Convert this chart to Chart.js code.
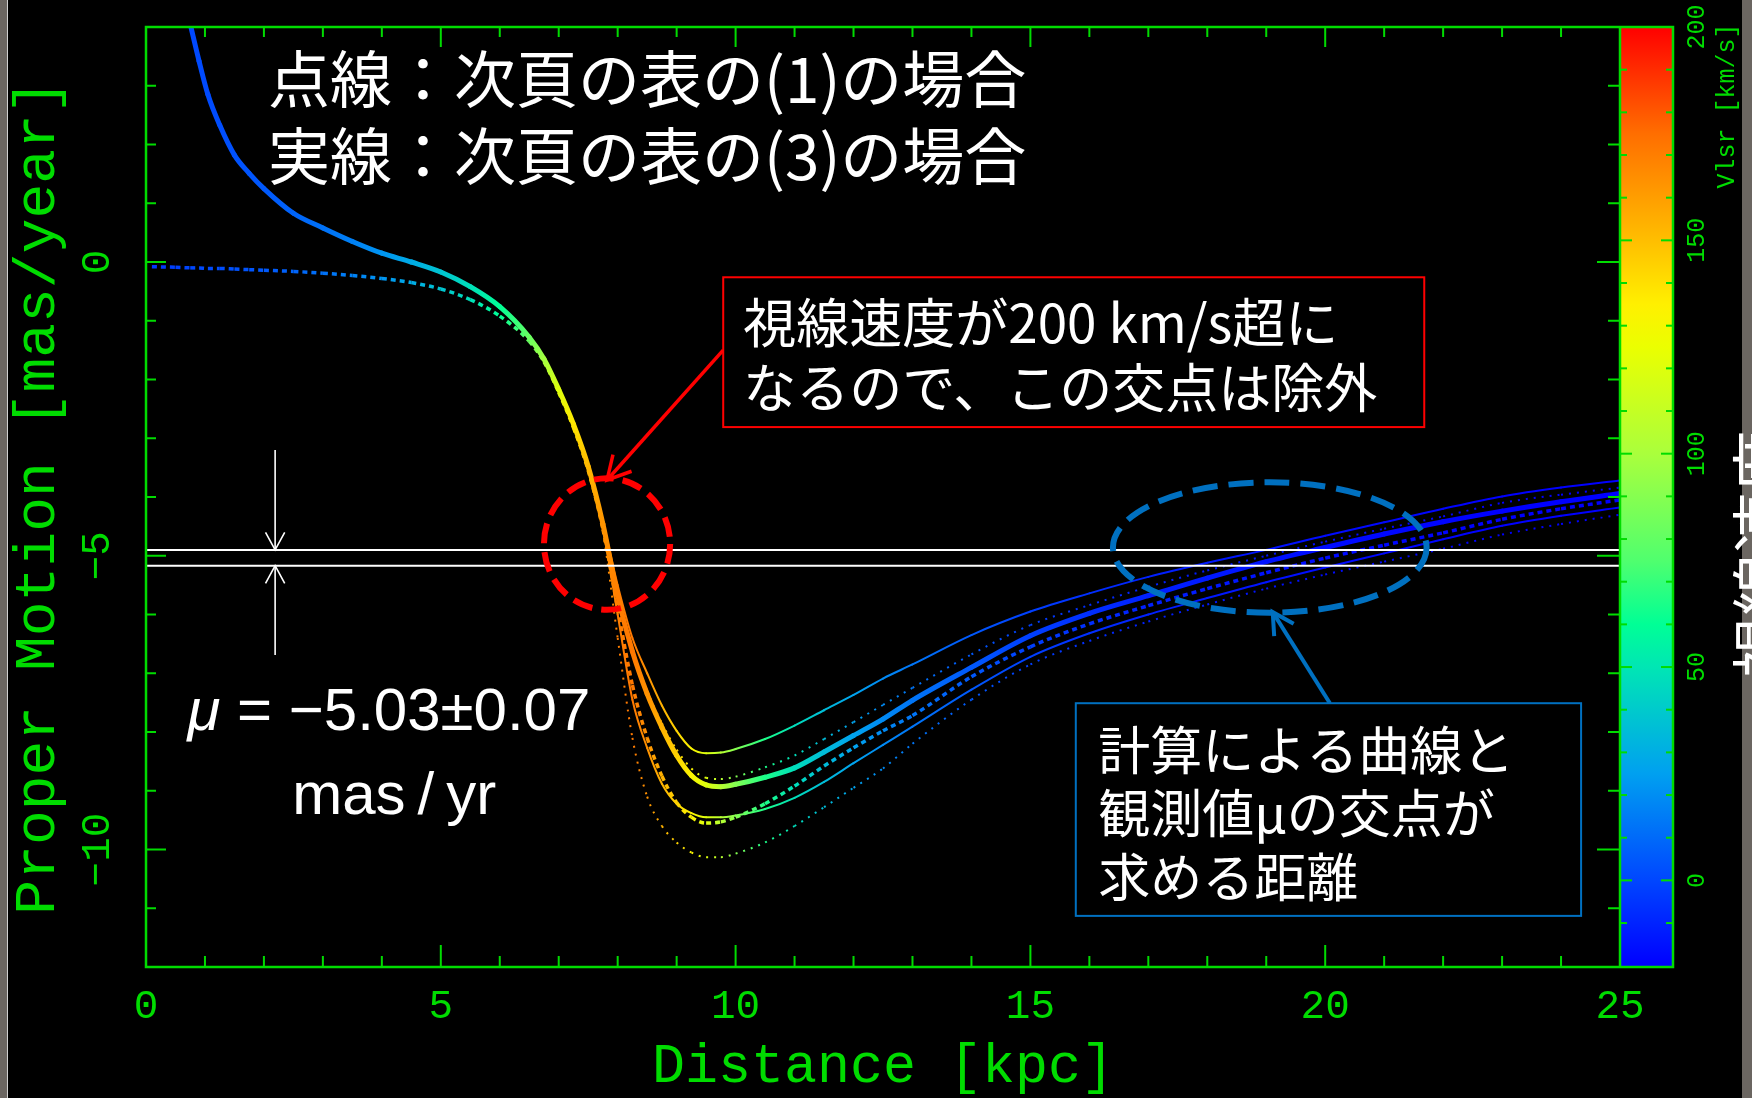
<!DOCTYPE html>
<html lang="ja">
<head>
<meta charset="utf-8">
<title>Proper Motion vs Distance</title>
<script src="https://cdn.jsdelivr.net/npm/chart.js@4.4.1/dist/chart.umd.min.js"></script>
<style>
  html, body { margin: 0; padding: 0; background: #000; overflow: hidden; }
  #wrap { position: relative; width: 1752px; height: 1098px; }
</style>
</head>
<body>
<div id="wrap"><canvas id="pm"></canvas></div>
<script>
// 距離 [kpc] (全曲線で共通)
const distanceKpc = [0.1, 0.5, 0.75, 0.9, 1.05, 1.25, 1.5, 1.75, 2.0, 2.5,
  3.0, 3.5, 4.0, 4.5, 5.0, 5.5, 6.0, 6.5, 6.75, 7.0,
  7.25, 7.5, 7.75, 8.0, 8.25, 8.5, 8.75, 9.0, 9.25, 9.5,
  9.75, 10.0, 10.5, 11.0, 11.5, 12.0, 12.5, 13.0, 14.0, 15.0,
  16.0, 17.0, 18.0, 19.0, 20.0, 21.0, 22.0, 23.0, 24.0, 25.0];

// 視線速度 Vlsr [km/s] (線の色)
const vlsrKms = [-4, -2, 0, 1, 1, 2, 3, 4, 5, 8,
  12, 16, 22, 29, 38, 48, 60, 82, 98, 120,
  138, 152, 163, 170, 172, 164, 154, 144, 133, 120,
  105, 90, 65, 47, 35, 26, 19, 13, 5, -2,
  -7, -11, -13, -15, -17, -18, -19, -20, -20, -20];

// 実線 : (3)の場合
const solidMid = [null, null, 4.05, 3.42, 2.85, 2.33, 1.82, 1.51, 1.25, 0.83,
  0.58, 0.35, 0.15, 0.0, -0.17, -0.42, -0.76, -1.28, -1.65, -2.17,
  -2.76, -3.48, -4.46, -5.68, -6.63, -7.35, -7.92, -8.40, -8.74, -8.90,
  -8.93, -8.89, -8.77, -8.61, -8.34, -8.06, -7.78, -7.46, -6.90, -6.36,
  -5.98, -5.68, -5.38, -5.10, -4.86, -4.63, -4.42, -4.24, -4.08, -3.94];
const solidHigh = [null, null, null, null, null, null, null, null, null, null,
  null, null, null, null, null, null, null, null, null, null,
  null, -3.48, -4.42, -5.5, -6.4, -7.0, -7.55, -7.98, -8.28, -8.36,
  -8.35, -8.29, -8.12, -7.89, -7.63, -7.37, -7.09, -6.85, -6.35, -5.95,
  -5.64, -5.36, -5.12, -4.90, -4.66, -4.43, -4.20, -3.99, -3.84, -3.72];
const solidLow = [null, null, null, null, null, null, null, null, null, null,
  null, null, null, null, null, null, null, null, null, null,
  null, -3.48, -4.55, -6.0, -7.45, -8.27, -8.88, -9.22, -9.38, -9.45,
  -9.45, -9.42, -9.31, -9.12, -8.85, -8.53, -8.22, -7.91, -7.28, -6.72,
  -6.32, -6.00, -5.72, -5.45, -5.20, -4.96, -4.72, -4.49, -4.32, -4.18];

// 点線 : (1)の場合
const dotMid = [-0.08, -0.09, -0.10, -0.10, -0.11, -0.11, -0.12, -0.13, -0.14, -0.16,
  -0.19, -0.23, -0.28, -0.35, -0.46, -0.64, -0.92, -1.35, -1.7, -2.22,
  -2.82, -3.55, -4.55, -5.9, -7.2, -8.1, -8.75, -9.2, -9.45, -9.55,
  -9.53, -9.45, -9.22, -8.92, -8.58, -8.27, -7.98, -7.72, -7.06, -6.55,
  -6.16, -5.85, -5.56, -5.29, -5.04, -4.82, -4.61, -4.38, -4.20, -4.05];
const dotHigh = [null, null, null, null, null, null, null, null, null, null,
  null, null, null, null, null, null, null, null, null, null,
  null, -3.55, -4.45, -5.7, -6.6, -7.3, -7.85, -8.3, -8.62, -8.78,
  -8.8, -8.76, -8.6, -8.4, -8.12, -7.83, -7.54, -7.25, -6.68, -6.18,
  -5.84, -5.53, -5.25, -5.0, -4.76, -4.54, -4.33, -4.10, -3.96, -3.84];
const dotLow = [null, null, null, null, null, null, null, null, null, null,
  null, null, null, null, null, null, null, null, null, null,
  null, -3.55, -4.6, -6.4, -8.1, -9.1, -9.6, -9.88, -10.05, -10.13,
  -10.13, -10.07, -9.88, -9.6, -9.28, -8.95, -8.62, -8.2, -7.45, -6.85,
  -6.45, -6.12, -5.83, -5.56, -5.32, -5.10, -4.88, -4.64, -4.46, -4.30];

// 観測値 μ = -5.03 ± 0.07 mas/yr (図の白枠)
const muBandTop = -4.90;
const muBandBottom = -5.17;

// カラーバー
const cmapKms = [-20, 0, 25, 50, 60, 75, 100, 125, 135, 150, 175, 200];
const cmapRgb = [[0,0,255],[0,70,255],[0,160,240],[0,230,180],[0,255,150],[80,255,110],
  [170,255,60],[235,255,0],[255,240,0],[255,190,0],[255,110,0],[255,0,0]];

const GREEN = '#00dc00';
const MONO = '"Liberation Mono", "DejaVu Sans Mono", monospace';
const JP = '"Noto Sans CJK JP", sans-serif';
const SANS = '"Liberation Sans", Arial, sans-serif';
const CBAR_W = 53;

function vlsrColor(v) {
  if (v <= cmapKms[0]) return 'rgb(' + cmapRgb[0].join(',') + ')';
  for (let i = 1; i < cmapKms.length; i++) {
    if (v <= cmapKms[i]) {
      const t = (v - cmapKms[i - 1]) / (cmapKms[i] - cmapKms[i - 1]);
      const a = cmapRgb[i - 1], b = cmapRgb[i];
      return 'rgb(' + a.map((c, k) => Math.round(c + (b[k] - c) * t)).join(',') + ')';
    }
  }
  return 'rgb(' + cmapRgb[cmapRgb.length - 1].join(',') + ')';
}

// 線分ごとに Vlsr の色でグラデーション
function segColor(c) {
  const a = vlsrColor(vlsrKms[c.p0DataIndex]);
  const b = vlsrColor(vlsrKms[c.p1DataIndex]);
  const dx = c.p1.x - c.p0.x, dy = c.p1.y - c.p0.y;
  if (dx * dx + dy * dy < 1) return a;
  const g = c.chart.ctx.createLinearGradient(c.p0.x, c.p0.y, c.p1.x, c.p1.y);
  g.addColorStop(0, a);
  g.addColorStop(1, b);
  return g;
}

function curve(label, values, width, dash, order) {
  return {
    label: label,
    data: values.map((v, i) => ({ x: distanceKpc[i], y: v })),
    xAxisID: 'x', yAxisID: 'y',
    borderWidth: width,
    borderDash: dash,
    borderCapStyle: dash.length ? 'butt' : 'round',
    borderColor: '#0000ff',
    pointRadius: 0,
    cubicInterpolationMode: 'monotone',
    segment: { borderColor: segColor },
    order: order
  };
}

// 図中の注記 (データ座標)
function arrow(ctx, x0, y0, x1, y1, len, ang, color, w) {
  const a = Math.atan2(y1 - y0, x1 - x0);
  ctx.strokeStyle = color; ctx.lineWidth = w;
  ctx.beginPath(); ctx.moveTo(x0, y0); ctx.lineTo(x1, y1); ctx.stroke();
  ctx.beginPath();
  ctx.moveTo(x1 - len * Math.cos(a - ang), y1 - len * Math.sin(a - ang));
  ctx.lineTo(x1, y1);
  ctx.lineTo(x1 - len * Math.cos(a + ang), y1 - len * Math.sin(a + ang));
  ctx.stroke();
}

function noPad(s) {
  s.paddingTop = 0; s.paddingBottom = 0; s.paddingLeft = 0; s.paddingRight = 0;
}

const decorations = {
  id: 'decorations',
  beforeDraw(chart) {
    const { ctx, width, height, chartArea: a } = chart;
    const cb = chart.scales.cb;
    ctx.save();
    ctx.fillStyle = '#000';
    ctx.fillRect(0, 0, width, height);
    ctx.fillStyle = '#6b6661';
    ctx.fillRect(0, 0, 7, height);
    ctx.fillRect(1742, 0, width - 1742, height);
    ctx.fillStyle = '#d0d0d0';
    ctx.fillRect(7, 0, 1, height);
    // カラーバー
    const yb = cb.getPixelForValue(cb.min), yt = cb.getPixelForValue(cb.max);
    const g = ctx.createLinearGradient(0, yb, 0, yt);
    g.addColorStop(0, vlsrColor(cb.min));
    cmapKms.forEach(v => {
      const t = (v - cb.min) / (cb.max - cb.min);
      if (t >= 0 && t <= 1) g.addColorStop(t, vlsrColor(v));
    });
    ctx.fillStyle = g;
    ctx.fillRect(a.right, yt, CBAR_W, yb - yt);
    ctx.restore();
  },
  afterDatasetsDraw(chart) {
    const { ctx, chartArea: a, scales } = chart;
    ctx.save();
    ctx.strokeStyle = GREEN;
    const seg = (x0, y0, x1, y1) => { ctx.beginPath(); ctx.moveTo(x0, y0); ctx.lineTo(x1, y1); ctx.stroke(); };
    ctx.lineWidth = 2;
    scales.x.ticks.forEach(t => {
      const p = scales.x.getPixelForValue(t.value);
      const major = t.value % 5 === 0;
      seg(p, a.bottom, p, a.bottom - (major ? 22 : 11));
      seg(p, a.top, p, a.top + (major ? 20 : 10));
    });
    scales.y.ticks.forEach(t => {
      const p = scales.y.getPixelForValue(t.value);
      const major = t.value % 5 === 0;
      seg(a.left, p, a.left + (major ? 20 : 10), p);
      seg(a.right, p, a.right - (major ? 23 : 12), p);
    });
    scales.cb.ticks.forEach(t => {
      if (Math.abs(t.value % 10) > 1e-6) return;
      const p = scales.cb.getPixelForValue(t.value);
      const major = t.value % 50 === 0;
      seg(a.right, p, a.right + (major ? 12 : 7), p);
      seg(a.right + CBAR_W, p, a.right + CBAR_W - (major ? 12 : 7), p);
    });
    ctx.lineWidth = 2.5;
    ctx.strokeRect(a.left, a.top, a.right + CBAR_W - a.left, a.bottom - a.top);
    seg(a.right, a.top, a.right, a.bottom);
    ctx.restore();
  },
  afterDraw(chart) {
    const { ctx } = chart;
    const X = v => chart.scales.x.getPixelForValue(v);
    const Y = v => chart.scales.y.getPixelForValue(v);
    ctx.save();

    // 白い矢印 (μ の幅)
    arrow(ctx, X(2.19), Y(-3.20), X(2.19), Y(muBandTop), 20, 0.5, '#fff', 1.6);
    arrow(ctx, X(2.19), Y(-6.69), X(2.19), Y(muBandBottom), 20, 0.5, '#fff', 1.6);

    // 赤い破線の円
    ctx.strokeStyle = '#ff0000';
    ctx.lineWidth = 6;
    ctx.setLineDash([20, 9]);
    ctx.beginPath();
    ctx.ellipse(X(7.82), Y(-4.80), X(7.82 + 1.07) - X(7.82), Y(-4.80 - 1.12) - Y(-4.80), 0, 0, Math.PI * 2);
    ctx.stroke();
    // 青い破線の楕円
    ctx.strokeStyle = '#0070c0';
    ctx.setLineDash([25, 11]);
    ctx.beginPath();
    ctx.ellipse(X(19.06), Y(-4.86), X(19.06 + 2.66) - X(19.06), Y(-4.86 - 1.11) - Y(-4.86), 0, 0, Math.PI * 2);
    ctx.stroke();
    ctx.setLineDash([]);

    arrow(ctx, X(9.79), Y(-1.50), X(7.82), Y(-3.71), 26, 0.5, '#ff0000', 3.5);
    arrow(ctx, X(20.08), Y(-7.51), X(19.11), Y(-5.96), 24, 0.5, '#0070c0', 4);

    // 注記の枠
    ctx.lineWidth = 2;
    ctx.fillStyle = '#000';
    ctx.fillRect(X(9.79), Y(-0.26), X(21.68) - X(9.79), Y(-2.81) - Y(-0.26));
    ctx.strokeStyle = '#ff0000';
    ctx.strokeRect(X(9.79), Y(-0.26), X(21.68) - X(9.79), Y(-2.81) - Y(-0.26));
    ctx.fillRect(X(15.77), Y(-7.51), X(24.34) - X(15.77), Y(-11.13) - Y(-7.51));
    ctx.strokeStyle = '#0070c0';
    ctx.strokeRect(X(15.77), Y(-7.51), X(24.34) - X(15.77), Y(-11.13) - Y(-7.51));

    // 文字
    ctx.fillStyle = '#fff';
    ctx.textBaseline = 'middle';
    ctx.textAlign = 'left';
    ctx.font = '62px ' + JP;
    ctx.fillText('点線：次頁の表の(1)の場合', X(2.07), Y(3.10));
    ctx.fillText('実線：次頁の表の(3)の場合', X(2.07), Y(1.80));
    ctx.font = '53px ' + JP;
    ctx.fillText('視線速度が200 km/s超に', X(10.13), Y(-1.04));
    ctx.fillText('なるので、この交点は除外', X(10.13), Y(-2.14));
    ctx.font = '52px ' + JP;
    ctx.fillText('計算による曲線と', X(16.15), Y(-8.31));
    ctx.fillText('観測値μの交点が', X(16.15), Y(-9.38));
    ctx.fillText('求める距離', X(16.15), Y(-10.47));

    // μ = −5.03±0.07 mas/yr
    const muA = 'μ', muB = ' = −5.03±0.07';
    ctx.font = 'italic 60px ' + SANS;
    const wA = ctx.measureText(muA).width;
    ctx.font = '60px ' + SANS;
    const wB = ctx.measureText(muB).width;
    const x0 = X(4.12) - (wA + wB) / 2;
    ctx.font = 'italic 60px ' + SANS;
    ctx.fillText(muA, x0, Y(-7.69));
    ctx.font = '60px ' + SANS;
    ctx.fillText(muB, x0 + wA, Y(-7.69));
    ctx.textAlign = 'center';
    ctx.fillText('mas\u2009/\u2009yr', X(4.21), Y(-9.11));

    // カラーバーの軸名と右端の文字
    ctx.fillStyle = GREEN;
    ctx.font = '25px ' + MONO;
    ctx.save();
    ctx.translate(1727, 106);
    ctx.rotate(-Math.PI / 2);
    ctx.fillText('Vlsr [km/s]', 0, 0);
    ctx.restore();
    ctx.fillStyle = '#fff';
    ctx.font = '62px ' + JP;
    ctx.translate(1762, 554);
    ctx.rotate(-Math.PI / 2);
    ctx.fillText('視線速度', 0, 0);
    ctx.restore();
  }
};

const band = {
  label: 'mu',
  data: [
    { x: 0, y: muBandTop }, { x: 25, y: muBandTop },
    { x: 25, y: muBandBottom }, { x: 0, y: muBandBottom }, { x: 0, y: muBandTop }
  ],
  xAxisID: 'x', yAxisID: 'y',
  borderColor: '#ffffff', borderWidth: 2, pointRadius: 0, fill: false, order: 0
};

new Chart(document.getElementById('pm'), {
  type: 'line',
  data: {
    datasets: [
      band,
      curve('(3)', solidMid, 5, [], 1),
      curve('(3) upper', solidHigh, 2, [], 2),
      curve('(3) lower', solidLow, 2, [], 2),
      curve('(1)', dotMid, 3.5, [5, 4], 3),
      curve('(1) upper', dotHigh, 2, [2, 6], 4),
      curve('(1) lower', dotLow, 2, [2, 6], 4)
    ]
  },
  options: {
    responsive: true,
    maintainAspectRatio: false,
    animation: false,
    devicePixelRatio: 1,
    layout: { padding: { top: 27, left: 0, right: 0, bottom: 0 } },
    plugins: { legend: { display: false }, tooltip: { enabled: false } },
    scales: {
      x: {
        type: 'linear', position: 'bottom', min: 0, max: 25,
        grid: { display: false, drawTicks: false }, border: { display: false },
        ticks: {
          stepSize: 1, autoSkip: false, maxRotation: 0, padding: 16,
          color: GREEN, font: { family: MONO, size: 41 },
          callback: v => (v % 5 === 0 ? String(v) : '')
        },
        title: { display: true, text: 'Distance [kpc]', color: GREEN, padding: 0,
          font: { family: MONO, size: 55, lineHeight: 1.1 } },
        afterFit: s => { s.height = 131; noPad(s); }
      },
      y: {
        type: 'linear', position: 'left', min: -12, max: 4,
        grid: { display: false, drawTicks: false }, border: { display: false },
        ticks: {
          stepSize: 1, autoSkip: false, minRotation: 90, maxRotation: 90,
          crossAlign: 'center', padding: 11,
          color: GREEN, font: { family: MONO, size: 41 },
          callback: v => (v % 5 === 0 ? String(v).replace('-', '\u2212') : '')
        },
        title: { display: true, text: 'Proper Motion [mas/year]', color: GREEN,
          padding: { top: 4, bottom: 0 }, font: { family: MONO, size: 58 } },
        afterFit: s => { s.width = 146; noPad(s); }
      },
      cb: {
        type: 'linear', position: 'right', min: -20.3, max: 200,
        grid: { display: false, drawTicks: false }, border: { display: false },
        ticks: {
          stepSize: 10, autoSkip: false, minRotation: 90, maxRotation: 90,
          crossAlign: 'center', padding: 55,
          color: GREEN, font: { family: MONO, size: 25 },
          callback: v => (v % 50 === 0 ? String(v) : '')
        },
        afterFit: s => { s.width = 132; noPad(s); }
      }
    }
  },
  plugins: [decorations]
});
</script>
</body>
</html>
